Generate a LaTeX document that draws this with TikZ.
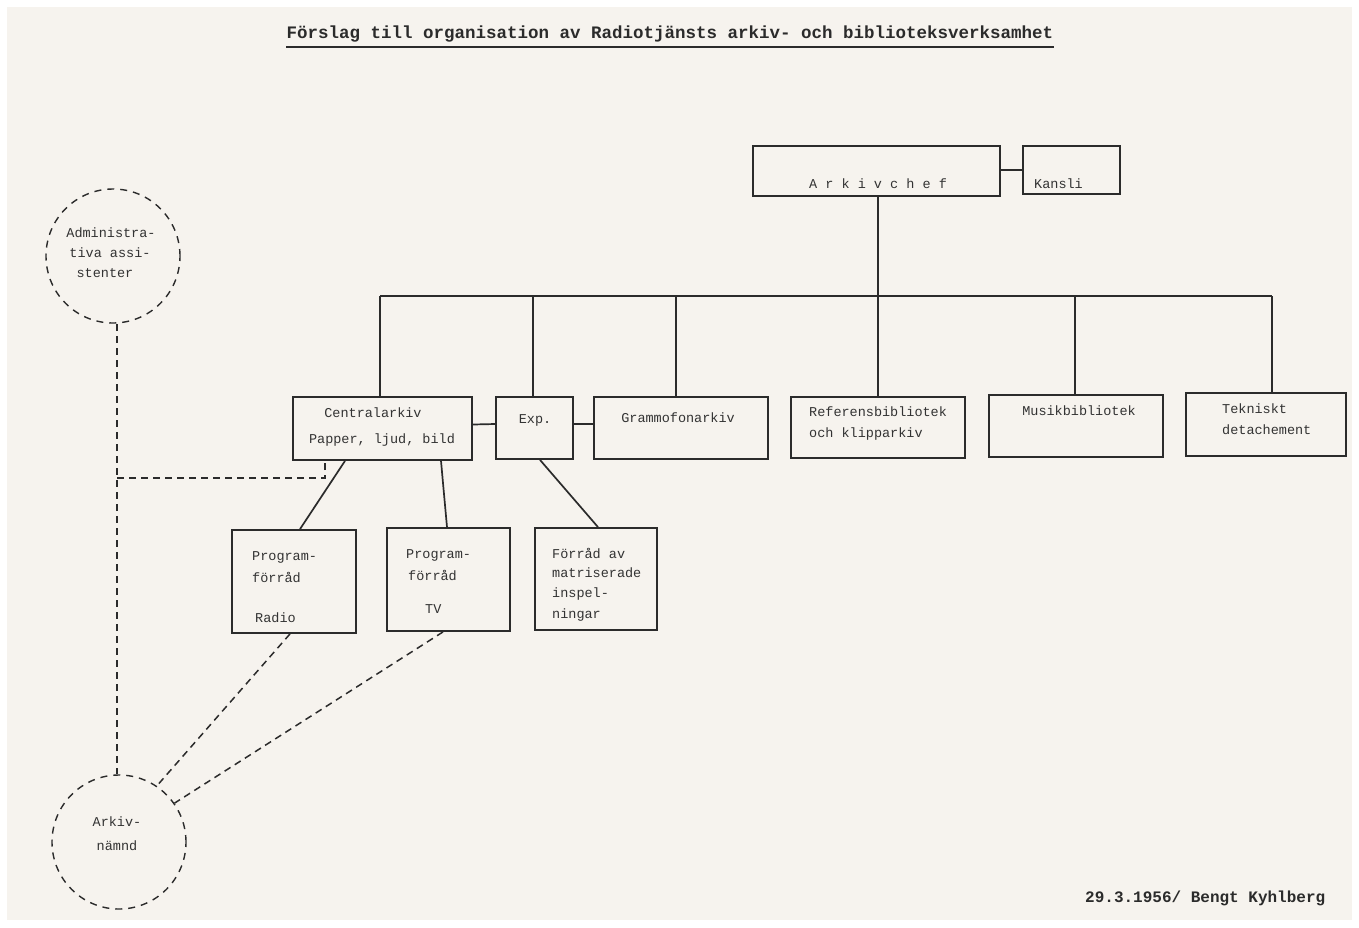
\documentclass[tikz,border=0pt]{standalone}
\usepackage{fontspec}
\setmonofont{Liberation Mono}
\definecolor{ink}{HTML}{2B2B2B}
\definecolor{txtc}{HTML}{333333}
\definecolor{paper}{HTML}{F6F3EE}
\begin{document}
\begin{tikzpicture}[x=1pt,y=-1pt,
  box/.style={draw=ink, line width=1.8pt, rectangle, inner sep=0},
  circ/.style={draw=ink, line width=1.4pt, circle, dash pattern=on 7pt off 6pt, inner sep=0, minimum size=134pt},
  conn/.style={draw=ink, line width=1.7pt},
  dconn/.style={draw=ink, line width=1.5pt, dash pattern=on 7pt off 5pt},
  txt/.style={font=\ttfamily\fontsize{13.5}{15}\selectfont, text=txtc, inner sep=0, anchor=west},
  ctxt/.style={txt, anchor=center},
]
\useasboundingbox (0,0) rectangle (1359,927);
\fill[white] (0,0) rectangle (1359,927);
\fill[paper] (7,7) rectangle (1352,920);

% title
\node[font=\ttfamily\bfseries\fontsize{17.5}{20}\selectfont, text=ink, inner sep=0] (title) at (670,34) {Förslag till organisation av Radiotjänsts arkiv- och biblioteksverksamhet};
\draw[ink, line width=2pt] ([yshift=-5pt]title.south west) -- ([yshift=-5pt]title.south east);

% boxes
\node[box, minimum width=247pt, minimum height=50pt] (chef) at (876.5,171) {};
\node[box, minimum width=97pt, minimum height=48pt] (kansli) at (1071.5,170) {};
\node[box, minimum width=179pt, minimum height=63pt] (central) at (382.5,428.5) {};
\node[box, minimum width=77pt, minimum height=62pt] (exp) at (534.5,428) {};
\node[box, minimum width=174pt, minimum height=62pt] (gram) at (681,428) {};
\node[box, minimum width=174pt, minimum height=61pt] (ref) at (878,427.5) {};
\node[box, minimum width=174pt, minimum height=62pt] (musik) at (1076,426) {};
\node[box, minimum width=160pt, minimum height=63pt] (tek) at (1266,424.5) {};
\node[box, minimum width=124pt, minimum height=103pt] (radio) at (294,581.5) {};
\node[box, minimum width=123pt, minimum height=103pt] (tv) at (448.5,579.5) {};
\node[box, minimum width=122pt, minimum height=102pt] (forrad) at (596,579) {};
\node[circ] (adm) at (113,256) {};
\node[circ] (namnd) at (119,842) {};

% texts
\node[ctxt] (tchef) at (878,184) {A r k i v c h e f};
\node[txt] (tkansli) at (1034,184) {Kansli};
\node[ctxt] (tcentral1) at (373,413) {Centralarkiv};
\node[ctxt] (tcentral2) at (382,440) {Papper, ljud, bild};
\node[ctxt] (texp) at (535,420) {Exp.};
\node[ctxt] (tgram) at (678,418) {Grammofonarkiv};
\node[txt] (tref1) at (809,412) {Referensbibliotek};
\node[txt] (tref2) at (809,434) {och klipparkiv};
\node[ctxt] (tmusik) at (1079,411) {Musikbibliotek};
\node[txt] (ttek1) at (1222,409) {Tekniskt};
\node[txt] (ttek2) at (1222,430) {detachement};
\node[txt] (tradio1) at (252,557) {Program-};
\node[txt] (tradio2) at (252,577) {förråd};
\node[txt] (tradio3) at (255,618) {Radio};
\node[txt] (ttv1) at (406,555) {Program-};
\node[txt] (ttv2) at (408,575) {förråd};
\node[txt] (ttv3) at (425,609) {TV};
\node[txt] (tf1) at (552,553) {Förråd av};
\node[txt] (tf2) at (552,573) {matriserade};
\node[txt] (tf3) at (552,594) {inspel-};
\node[txt] (tf4) at (552,615) {ningar};
\node[ctxt] (tadm1) at (111,233) {Administra-};
\node[ctxt] (tadm2) at (110,253) {tiva assi-};
\node[ctxt] (tadm3) at (105,273) {stenter};
\node[ctxt] (tn1) at (117,822) {Arkiv-};
\node[ctxt] (tn2) at (117,846) {nämnd};
\node[font=\ttfamily\bfseries\fontsize{16}{18}\selectfont, text=ink, inner sep=0, anchor=west] (sign) at (1085,898) {29.3.1956/ Bengt Kyhlberg};

% solid connectors
\draw[conn] (chef.east |- kansli.west) -- (kansli.west);
\coordinate (b1) at (380,296);
\coordinate (b2) at (533,296);
\coordinate (b3) at (676,296);
\coordinate (b4) at (878,296);
\coordinate (b5) at (1075,296);
\coordinate (b6) at (1272,296);
\draw[conn] (chef.south -| b4) -- (b4 |- ref.north);
\draw[conn] (b1) -- (b6);
\draw[conn] (b1) -- (b1 |- central.north);
\draw[conn] (b2) -- (b2 |- exp.north);
\draw[conn] (b3) -- (b3 |- gram.north);
\draw[conn] (b5) -- (b5 |- musik.north);
\draw[conn] (b6) -- (b6 |- tek.north);
\draw[conn] ([yshift=4pt]central.east) -- ([yshift=4pt]exp.west);
\draw[conn] ([yshift=4pt]exp.east) -- ([yshift=4pt]gram.west);
\draw[conn] ([xshift=-37.5pt]central.south) -- ([xshift=6pt]radio.north);
\draw[conn] ([xshift=58.5pt]central.south) -- ([xshift=-1.5pt]tv.north);
\draw[conn] ([xshift=5.5pt]exp.south) -- ([xshift=2pt]forrad.north);

% dashed connectors
\coordinate (v1) at (117,324);
\coordinate (vj) at (117,478);
\draw[dconn] (v1) -- (v1 |- namnd.north);
\draw[dconn] (vj) -| ([xshift=-57.5pt]central.south);
\draw[dconn] ([xshift=-4pt]radio.south) -- (namnd.56);
\draw[dconn] ([xshift=-5.5pt]tv.south) -- (namnd.35);
\end{tikzpicture}
\end{document}
